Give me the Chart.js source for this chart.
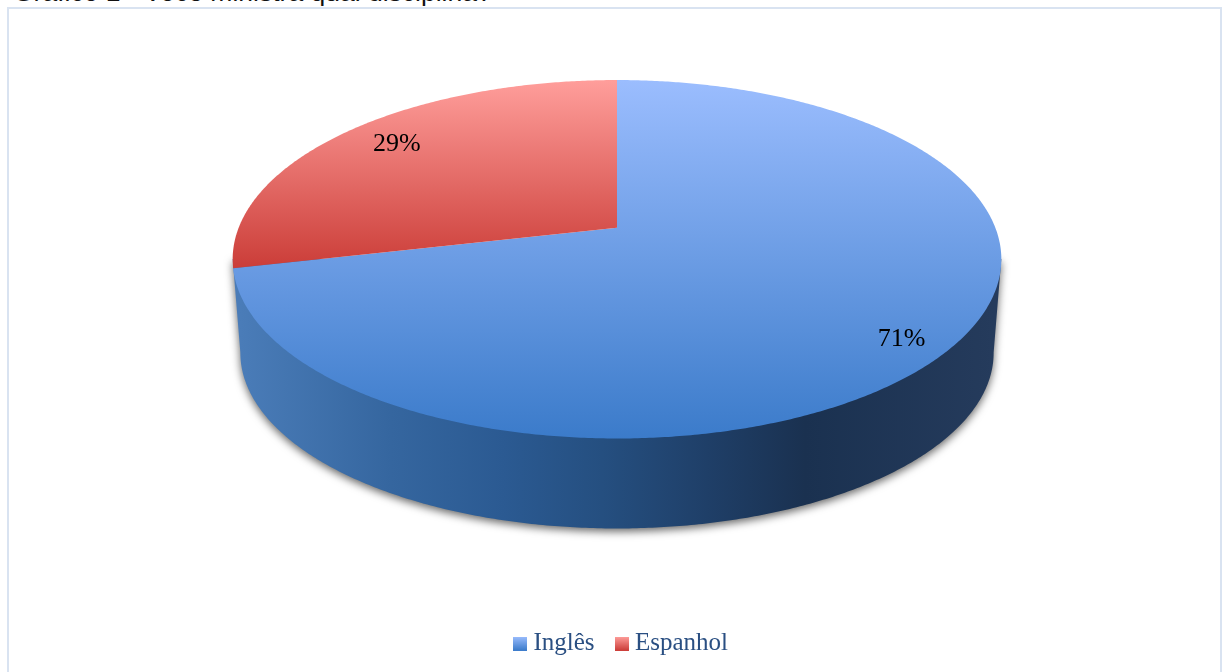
<!DOCTYPE html>
<html lang="pt">
<head>
<meta charset="utf-8">
<title>Gráfico 1</title>
<script src="https://cdn.jsdelivr.net/npm/chart.js@4"></script>
<style>
html,body{margin:0;padding:0;background:#fff;overflow:hidden;width:1226px;height:672px}
#cap{position:absolute;left:13px;top:-23.5px;font:26.5px "Liberation Sans",Arial,sans-serif;color:#111;white-space:nowrap}
#frame{position:absolute;left:7px;top:7px;width:1211px;height:700px;border:2px solid #d9e3f1}
canvas{position:absolute;left:0;top:0}
</style>
</head>
<body>
<div id="cap">Gráfico 1 - Você ministra qual disciplina?</div>
<div id="frame"></div>
<canvas id="c" width="1226" height="672"></canvas>
<script>
const categories = ['Inglês', 'Espanhol'];
const shareValues = [71.4, 28.6];
const topColors = ['#9bbdfe', '#ff9e9b'];
const bottomColors = ['#3b7bca', '#cb3d38'];
const labelFraction = [0.87, 0.81];
const labelShiftY = [7, -3];
const wallStops = [[0, '#4a7cb8'], [0.2, '#35669f'], [0.35, '#2b5a92'], [0.48, '#254f80'], [0.62, '#1f3f68'], [0.75, '#1a3150'], [1, '#253b5c']];

const tilt = { k: -0.1755, xs: 1.2508, ys: 0.5742, cxShift: -6.5, apexShift: -0.2469, wallScale: 0.98, wallDrop: 94.2 };

function apex(el) {
  return { x: el.x + tilt.cxShift, y: el.y + tilt.apexShift * el.outerRadius };
}
function project(el, a, f = 1) {
  const c = apex(el);
  const u = f * Math.cos(a), v = f * Math.sin(a);
  const d = 1 + tilt.k * v;
  return { x: c.x + tilt.xs * el.outerRadius * u / d, y: c.y + tilt.ys * el.outerRadius * v / d };
}
function lower(el, p) {
  const c = apex(el);
  return { x: c.x + tilt.wallScale * (p.x - c.x), y: c.y + tilt.wallDrop + tilt.wallScale * (p.y - c.y) };
}
function swatch(top, bottom) {
  const c = document.createElement('canvas');
  c.width = 14; c.height = 14;
  const x = c.getContext('2d');
  const g = x.createLinearGradient(0, 0, 0, 14);
  g.addColorStop(0, top); g.addColorStop(1, bottom);
  x.fillStyle = g; x.fillRect(0, 0, 14, 14);
  return c;
}

const pie3d = {
  id: 'pie3d',
  beforeDatasetsDraw(chart) {
    const ctx = chart.ctx, arcs = chart.getDatasetMeta(0).data, el = arcs[0];
    const N = 720, rim = [];
    for (let i = 0; i <= N; i++) rim.push(project(el, i / N * 2 * Math.PI));
    const rightI = rim.reduce((b, p, i) => p.x > rim[b].x ? i : b, 0);
    const leftI = rim.reduce((b, p, i) => p.x < rim[b].x ? i : b, 0);

    // side wall with soft shadow
    ctx.save();
    const lo = rim.map(p => lower(el, p));
    ctx.beginPath();
    for (let i = 0; i <= N; i++) {
      const p = lo[(rightI + i) % N];
      ctx.lineTo(p.x, p.y);
      if ((rightI + i) % N === leftI) break;
    }
    ctx.lineTo(rim[leftI].x, rim[leftI].y);
    ctx.lineTo(rim[rightI].x, rim[rightI].y);
    ctx.closePath();
    const wall = ctx.createLinearGradient(lo[leftI].x, 0, lo[rightI].x, 0);
    wallStops.forEach(s => wall.addColorStop(s[0], s[1]));
    ctx.fillStyle = wall;
    ctx.shadowColor = 'rgba(0,0,0,0.6)';
    ctx.shadowBlur = 9;
    ctx.shadowOffsetY = 3;
    ctx.fill();
    ctx.restore();

    // top face slices
    arcs.forEach((arc, i) => {
      const pts = [apex(arc)];
      const steps = Math.ceil((arc.endAngle - arc.startAngle) * 120);
      for (let s = 0; s <= steps; s++) pts.push(project(arc, arc.startAngle + (arc.endAngle - arc.startAngle) * s / steps));
      const ys = pts.map(p => p.y);
      const g = ctx.createLinearGradient(0, Math.min(...ys), 0, Math.max(...ys));
      g.addColorStop(0, topColors[i]);
      g.addColorStop(1, bottomColors[i]);
      ctx.beginPath();
      pts.forEach((p, j) => j ? ctx.lineTo(p.x, p.y) : ctx.moveTo(p.x, p.y));
      ctx.closePath();
      ctx.fillStyle = g;
      ctx.fill();
    });

    // value labels
    const total = shareValues.reduce((a, b) => a + b, 0);
    ctx.save();
    ctx.font = '26px "Liberation Serif", serif';
    ctx.fillStyle = '#000';
    ctx.textAlign = 'center';
    ctx.textBaseline = 'middle';
    arcs.forEach((arc, i) => {
      const p = project(arc, (arc.startAngle + arc.endAngle) / 2, labelFraction[i]);
      ctx.fillText(Math.round(shareValues[i] / total * 100) + '%', p.x, p.y + labelShiftY[i]);
    });
    ctx.restore();
    return false;
  }
};

new Chart(document.getElementById('c'), {
  type: 'pie',
  data: {
    labels: categories,
    datasets: [{ data: shareValues, backgroundColor: bottomColors, borderWidth: 0 }]
  },
  options: {
    responsive: false,
    animation: false,
    layout: { padding: { left: 21, top: 0, bottom: 6, right: 0 } },
    plugins: {
      tooltip: { enabled: false },
      legend: {
        position: 'bottom',
        labels: {
          usePointStyle: true,
          boxWidth: 2,
          boxHeight: 14,
          padding: 26,
          color: '#2a4f82',
          font: { family: '"Liberation Serif", serif', size: 25 },
          generateLabels: () => categories.map((name, i) => ({
            text: name,
            pointStyle: swatch(topColors[i], bottomColors[i]),
            fontColor: '#2a4f82',
            lineWidth: 0,
            strokeStyle: 'transparent',
            fillStyle: bottomColors[i],
            index: i
          }))
        }
      }
    }
  },
  plugins: [pie3d]
});
</script>
</body>
</html>
